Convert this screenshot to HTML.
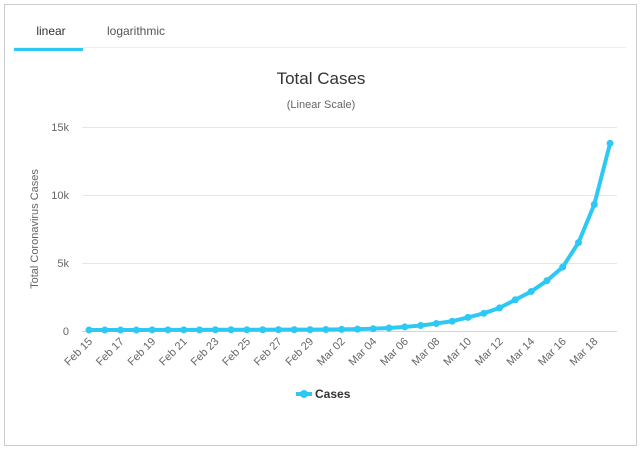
<!DOCTYPE html>
<html><head><meta charset="utf-8"><style>
body{margin:0;background:#fff;font-family:"Liberation Sans",sans-serif}
</style></head><body>
<svg width="642" height="451" xmlns="http://www.w3.org/2000/svg" font-family="Liberation Sans, sans-serif">
<rect x="4.5" y="4.5" width="632" height="441" fill="#fff" stroke="#ccc"/>
<text x="51" y="35" font-size="12" fill="#333" text-anchor="middle">linear</text>
<text x="136" y="35" font-size="12" fill="#555" text-anchor="middle">logarithmic</text>
<line x1="14" y1="47.5" x2="626" y2="47.5" stroke="#eee"/>
<rect x="14" y="48" width="69" height="3" fill="#2ec8f5"/>
<text x="321" y="84" font-size="17" fill="#333" text-anchor="middle">Total Cases</text>
<text x="321" y="108" font-size="11" fill="#666" text-anchor="middle">(Linear Scale)</text>
<g stroke="#e6e6e6"><line x1="82" y1="127.5" x2="617" y2="127.5"/><line x1="82" y1="195.5" x2="617" y2="195.5"/><line x1="82" y1="263.5" x2="617" y2="263.5"/></g>
<line x1="82" y1="331.5" x2="617" y2="331.5" stroke="#ccd6eb"/>
<g font-size="11" fill="#666" text-anchor="end"><text x="69" y="131">15k</text><text x="69" y="199">10k</text><text x="69" y="267">5k</text><text x="69" y="335">0</text></g>
<text transform="translate(38,229) rotate(-90)" font-size="11" fill="#666" text-anchor="middle">Total Coronavirus Cases</text>
<g id="lbl" font-size="11" fill="#666" text-anchor="end"></g>
<polyline id="ln" fill="none" stroke="#2ec8f5" stroke-width="4" stroke-linejoin="round"/>
<g id="pts" fill="#2ec8f5"></g>
<line x1="296" y1="394" x2="312" y2="394" stroke="#2ec8f5" stroke-width="4"/>
<circle cx="304" cy="394" r="4" fill="#2ec8f5"/>
<text x="315" y="398" font-size="12" font-weight="bold" fill="#333">Cases</text>
</svg>
<script>
var v=[0.07,0.07,0.07,0.07,0.08,0.08,0.08,0.08,0.09,0.09,0.09,0.09,0.1,0.1,0.1,0.11,0.12,0.14,0.17,0.22,0.3,0.4,0.55,0.72,1.0,1.3,1.7,2.3,2.9,3.7,4.7,6.5,9.3,13.8];
var labs=["Feb 15","Feb 17","Feb 19","Feb 21","Feb 23","Feb 25","Feb 27","Feb 29","Mar 02","Mar 04","Mar 06","Mar 08","Mar 10","Mar 12","Mar 14","Mar 16","Mar 18"];
var ns="http://www.w3.org/2000/svg",p=[],g=document.getElementById('pts'),L=document.getElementById('lbl');
for(var i=0;i<v.length;i++){var x=89+i*15.79,y=331-v[i]*13.6;p.push(x+","+y);
var c=document.createElementNS(ns,'circle');c.setAttribute('cx',x);c.setAttribute('cy',y);c.setAttribute('r',3.5);g.appendChild(c);
if(i%2==0){var t=document.createElementNS(ns,'text');t.setAttribute('transform','translate('+(x+4)+',342) rotate(-45)');t.textContent=labs[i/2];L.appendChild(t);}}
document.getElementById('ln').setAttribute('points',p.join(' '));
</script>
</body></html>
